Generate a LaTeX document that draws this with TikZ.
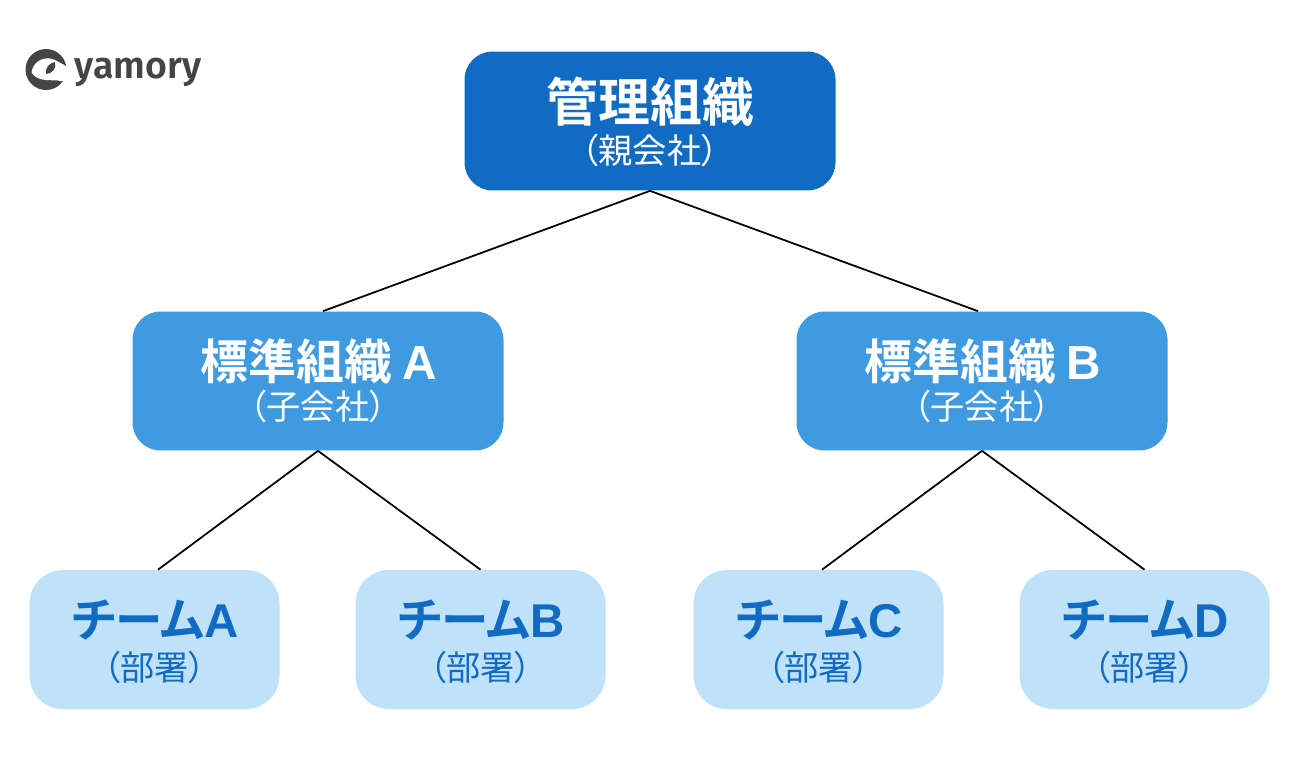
\documentclass[tikz,border=0pt]{standalone}
\usepackage{fontspec}
\setmainfont{Noto Sans CJK JP}[BoldFont={Noto Sans CJK JP Bold},RawFeature={+palt}]
\newfontfamily\logofont{Fira Sans SemiBold}
\newfontfamily\latinfont{Liberation Sans Bold}
\usetikzlibrary{positioning}
\usetikzlibrary{calc}
\definecolor{topblue}{HTML}{116BC3}
\definecolor{midblue}{HTML}{3F9ADF}
\definecolor{lightblue}{HTML}{BFE2F8}
\definecolor{logogray}{HTML}{444444}
\tikzset{
  orgbox/.style={rounded corners=16pt, minimum width=#1*0.02cm, minimum height=2.78cm, inner sep=0pt},
  toptitle/.style={text=white, font=\fontsize{29.5}{30}\selectfont\bfseries},
  midtitle/.style={text=white, font=\fontsize{27.2}{30}\selectfont\bfseries},
  teamtitle/.style={text=topblue, font=\fontsize{27}{30}\selectfont\bfseries},
  subtext/.style={font=\fontsize{19.5}{24}\selectfont},
  link/.style={black, line width=1pt}
}
\begin{document}
\begin{tikzpicture}[x=0.02cm, y=-0.02cm]
 \useasboundingbox (0,0) rectangle (1300,758);

 %level 1
 \node[orgbox=371, fill=topblue] (Root) at (650,121) {};
 \node[toptitle] (RootT) at (650.5,102) {管理組織};
 \node[subtext, text=white] (RootS) at (650,150) {（親会社）};

 %level 2
 \foreach \name/\x in { A/318, B/982 } {
   \node[orgbox=371, fill=midblue] (Mid\name) at (\x,381) {};
   \node[midtitle] (Mid\name T) at (\x+1,361) {標準組織 {\latinfont\name}};
   \node[subtext, text=white] (Mid\name S) at (\x,406) {（子会社）};
 }

 %level 3
 \foreach \name/\x in { A/154.5, B/480.5, C/818.5, D/1144.5 } {
   \node[orgbox=250, fill=lightblue, rounded corners=19pt] (Team\name) at (\x,639.5) {};
   \node[teamtitle] (Team\name T) at (\x+1,620) {チーム{\latinfont\name}};
   \node[subtext, text=topblue] (Team\name S) at (\x,667) {（部署）};
 }

 %lines
 \draw[link] (Root.south) -- ([xshift=0.1cm]MidA.north);
 \draw[link] (Root.south) -- ([xshift=-0.08cm]MidB.north);
 \draw[link] (MidA.south) -- ([xshift=0.07cm]TeamA.north);
 \draw[link] (MidA.south) -- (TeamB.north);
 \draw[link] (MidB.south) -- ([xshift=0.07cm]TeamC.north);
 \draw[link] (MidB.south) -- (TeamD.north);

 %logo
 \fill[logogray] (46,69.5) circle (20.5);
 \fill[white] (31.5,72.5) .. controls (33,62) and (42,57.5) .. (50,58.5) .. controls (56,59.5) and (60,63) .. (68,67)
   -- (68,81) -- (61,81) .. controls (52,79) and (38,83) .. (31.5,72.5) -- cycle;
 \fill[logogray] (46,74) .. controls (45,68) and (49,63) .. (55,62) .. controls (57,68) and (52,74) .. (46,74) -- cycle;
 \node[logogray, anchor=west, inner sep=0pt, font=\logofont\fontsize{21.3}{24}\selectfont] (Logo) at (74.5,72) {yamory};
\end{tikzpicture}
\end{document}
